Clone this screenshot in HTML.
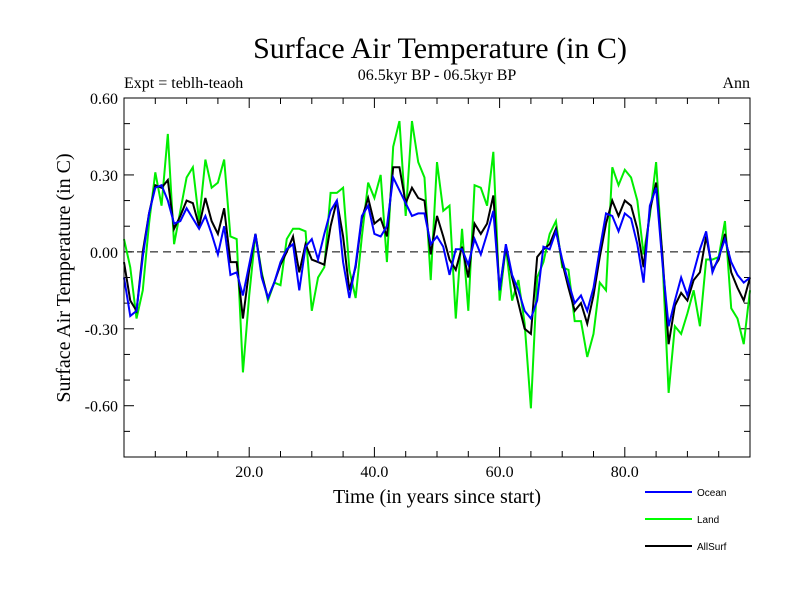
<!DOCTYPE html>
<html><head><meta charset="utf-8"><style>
body{margin:0;background:#fff;}
svg{display:block;}
</style></head><body>
<svg id="chart" width="800" height="600" xmlns="http://www.w3.org/2000/svg">
<text x="440" y="58" font-family="Liberation Serif, serif" font-size="30" text-anchor="middle">Surface Air Temperature (in C)</text>
<text x="124" y="88" font-family="Liberation Serif, serif" font-size="16">Expt = teblh-teaoh</text>
<text x="437" y="80" font-family="Liberation Serif, serif" font-size="16" text-anchor="middle">06.5kyr BP - 06.5kyr BP</text>
<text x="750" y="88" font-family="Liberation Serif, serif" font-size="16" text-anchor="end">Ann</text>
<text x="437" y="503" font-family="Liberation Serif, serif" font-size="20" text-anchor="middle">Time (in years since start)</text>
<text transform="translate(70,278) rotate(-90)" font-family="Liberation Serif, serif" font-size="20" text-anchor="middle">Surface Air Temperature (in C)</text>
<g id="axes"></g>
<g id="series"></g>
<rect x="124" y="98" width="626" height="359" fill="none" stroke="#000" stroke-width="1"/>
<g>
<line x1="645" y1="492" x2="692" y2="492" stroke="#0000ff" stroke-width="2"/>
<text x="697" y="496" font-family="Liberation Sans, sans-serif" font-size="10">Ocean</text>
<line x1="645" y1="519" x2="692" y2="519" stroke="#00ff00" stroke-width="2"/>
<text x="697" y="523" font-family="Liberation Sans, sans-serif" font-size="10">Land</text>
<line x1="645" y1="546" x2="692" y2="546" stroke="#000" stroke-width="2"/>
<text x="697" y="550" font-family="Liberation Sans, sans-serif" font-size="10">AllSurf</text>
</g>
</svg>
<script>
const yTickValues=[0.6,0.3,0,-0.3,-0.6];
const yTickLabels=["0.60","0.30","0.00","-0.30","-0.60"];
const xTickValues=[20,40,60,80];
const xTickLabels=["20.0","40.0","60.0","80.0"];
const ocean=[-0.10,-0.25,-0.23,-0.02,0.15,0.25,0.26,0.20,0.11,0.12,0.17,0.13,0.09,0.14,0.07,-0.01,0.10,-0.09,-0.08,-0.17,-0.05,0.07,-0.10,-0.18,-0.12,-0.04,0.01,0.03,-0.15,0.02,0.05,-0.03,0.07,0.16,0.20,-0.04,-0.18,-0.05,0.14,0.18,0.07,0.06,0.10,0.29,0.24,0.19,0.14,0.15,0.15,0.03,0.06,0.02,-0.09,0.01,0.01,-0.05,0.05,-0.01,0.07,0.16,-0.15,0.03,-0.09,-0.15,-0.23,-0.26,-0.19,0.02,0.01,0.08,-0.03,-0.12,-0.20,-0.17,-0.23,-0.14,0.01,0.15,0.14,0.08,0.15,0.13,0.03,-0.12,0.18,0.25,-0.04,-0.29,-0.19,-0.10,-0.17,-0.08,0.01,0.08,-0.08,-0.02,0.05,-0.04,-0.09,-0.12,-0.10];
const land=[0.05,-0.06,-0.26,-0.15,0.11,0.31,0.18,0.46,0.03,0.16,0.29,0.33,0.12,0.36,0.25,0.27,0.36,0.06,0.05,-0.47,-0.17,0.07,-0.08,-0.19,-0.12,-0.13,0.05,0.09,0.09,0.08,-0.23,-0.10,-0.06,0.23,0.23,0.25,-0.07,-0.18,0.06,0.27,0.21,0.30,-0.04,0.41,0.51,0.14,0.51,0.35,0.29,-0.11,0.35,0.16,0.18,-0.26,0.09,-0.23,0.26,0.25,0.18,0.39,-0.19,0.02,-0.19,-0.11,-0.28,-0.61,-0.10,-0.04,0.07,0.12,-0.06,-0.07,-0.27,-0.27,-0.41,-0.32,-0.12,-0.15,0.33,0.26,0.32,0.29,0.20,-0.01,0.14,0.35,-0.02,-0.55,-0.29,-0.32,-0.24,-0.15,-0.29,-0.03,-0.03,-0.02,0.12,-0.22,-0.26,-0.36,-0.15];
const allSurf=[-0.04,-0.19,-0.23,0.00,0.15,0.26,0.25,0.28,0.09,0.14,0.20,0.19,0.10,0.21,0.12,0.07,0.17,-0.04,-0.04,-0.26,-0.07,0.07,-0.09,-0.18,-0.12,-0.05,0.00,0.06,-0.08,0.03,-0.03,-0.04,-0.05,0.10,0.20,0.06,-0.15,-0.06,0.13,0.21,0.11,0.13,0.06,0.33,0.33,0.19,0.25,0.21,0.20,-0.01,0.14,0.06,-0.03,-0.07,0.02,-0.10,0.11,0.07,0.11,0.22,-0.15,0.02,-0.10,-0.20,-0.30,-0.32,-0.02,0.01,0.03,0.09,-0.04,-0.14,-0.23,-0.20,-0.28,-0.17,-0.02,0.11,0.20,0.14,0.20,0.18,0.09,-0.06,0.16,0.27,-0.01,-0.36,-0.21,-0.16,-0.19,-0.11,-0.08,0.06,-0.07,-0.03,0.07,-0.08,-0.14,-0.19,-0.10];

const NS='http://www.w3.org/2000/svg';
const X0=124,X1=750,Y0=98,Y1=457,XMIN=0,XMAX=100,YMIN=-0.8,YMAX=0.6;
function xs(v){return X0+(v-XMIN)/(XMAX-XMIN)*(X1-X0);}
function ys(v){return Y1-(v-YMIN)/(YMAX-YMIN)*(Y1-Y0);}
function mk(tag,attrs,parent){const e=document.createElementNS(NS,tag);for(const k in attrs)e.setAttribute(k,attrs[k]);parent.appendChild(e);return e;}
const axes=document.getElementById('axes');
for(let i=0;i<=14;i++){
  const v=YMIN+i*0.1;const y=ys(v);const major=(i%3===2);
  const l=mk('line',{x1:X0,x2:X0+(major?10:6),y1:y,y2:y,stroke:'#000'},axes);
  
  
  const r=mk('line',{x1:X1,x2:X1-(major?10:6),y1:y,y2:y,stroke:'#000'},axes);
  
  
}
yTickValues.forEach((v,i)=>{
  const t=mk('text',{x:X0-6,y:ys(v)+6,'text-anchor':'end','font-family':'Liberation Serif, serif','font-size':'16'},axes);
  t.textContent=yTickLabels[i];
  
  
});
for(let v=5;v<100;v+=5){
  const major=(v%20===0);const x=xs(v);
  const a=mk('line',{x1:x,x2:x,y1:Y1,y2:Y1-(major?10:6),stroke:'#000'},axes);
  
  
  const b=mk('line',{x1:x,x2:x,y1:Y0,y2:Y0+(major?10:6),stroke:'#000'},axes);
  
  
}
xTickValues.forEach((v,i)=>{
  const t=mk('text',{x:xs(v),y:Y1+20,'text-anchor':'middle','font-family':'Liberation Serif, serif','font-size':'16'},axes);
  t.textContent=xTickLabels[i];
  
  
});
const zl=mk('line',{x1:X0,x2:X1,y1:ys(0),y2:ys(0),stroke:'#000','stroke-dasharray':'8,5'},axes);


const sg=document.getElementById('series');
function draw(data,color,name){
  const pts=data.map((v,i)=>xs(i).toFixed(2)+','+ys(v).toFixed(2)).join(' ');
  const p=mk('polyline',{points:pts,fill:'none',stroke:color,'stroke-width':'2','stroke-linejoin':'miter'},sg);
  
  
}
draw(land,'#00ee00','land-line');
draw(allSurf,'#000000','allsurf-line');
draw(ocean,'#0000ff','ocean-line');
</script>
</body></html>
